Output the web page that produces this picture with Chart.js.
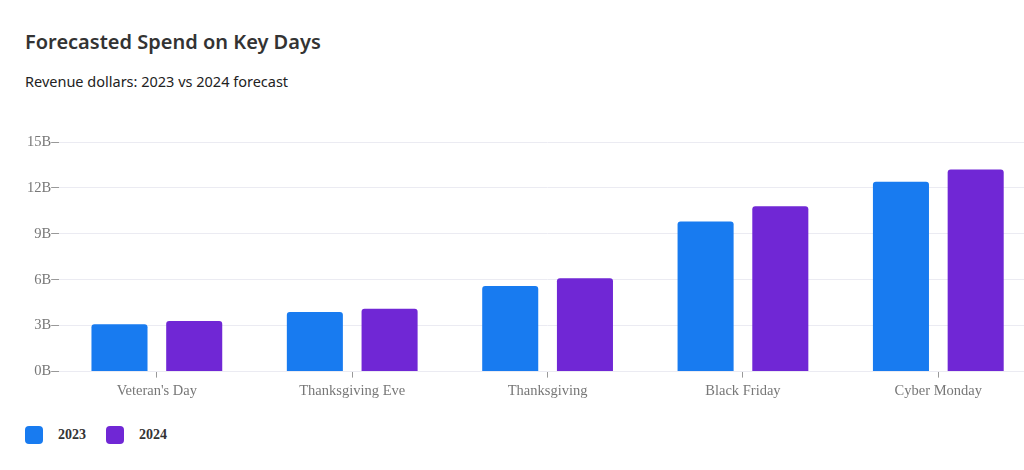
<!DOCTYPE html>
<html>
<head>
<meta charset="utf-8">
<script src="https://cdn.jsdelivr.net/npm/chart.js@4"></script>
<style>
  html, body { margin:0; padding:0; background:#fff; overflow:hidden; width:1024px; height:470px; }
  #wrap { position:absolute; left:0; top:0; width:1038px; height:405px; }
  .title { position:absolute; left:25px; top:28px; font-family:"Noto Sans"; font-weight:600; font-size:20px; color:#333; }
  .sub { position:absolute; left:25px; top:71px; font-family:"Noto Sans"; font-size:14.5px; color:#222; }
  #legend { position:absolute; left:25px; top:426px; display:flex; font-family:"Liberation Serif"; font-weight:bold; font-size:14px; color:#333; }
  .item { display:flex; align-items:center; margin-right:20px; }
  .box { width:18px; height:18px; border-radius:4px; margin-right:15px; }
</style>
</head>
<body>
<div class="title">Forecasted Spend on Key Days</div>
<div class="sub">Revenue dollars: 2023 vs 2024 forecast</div>
<div id="wrap"><canvas id="chart"></canvas></div>
<div id="legend"></div>
<script>
let categories = ["Veteran's Day", "Thanksgiving Eve", "Thanksgiving", "Black Friday", "Cyber Monday"];
let seriesNames = ["2023", "2024"];
let values2023 = [3.1, 3.9, 5.6, 9.8, 12.4];
let values2024 = [3.3, 4.1, 6.1, 10.8, 13.2];
let yTicks = [0, 3, 6, 9, 12, 15];
let colors = ["#187bf0", "#7027d5"];

let tickFont = { family: "Liberation Serif", size: 14.5 };

new Chart(document.getElementById("chart"), {
    type: "bar",
    data: {
        labels: categories,
        datasets: [
            { label: seriesNames[0], data: values2023, backgroundColor: colors[0] },
            { label: seriesNames[1], data: values2024, backgroundColor: colors[1] }
        ]
    },
    options: {
        responsive: true,
        maintainAspectRatio: false,
        animation: false,
        layout: { padding: { left: 27, top: 142, right: 2, bottom: 0 } },
        datasets: { bar: { categoryPercentage: 0.765, barPercentage: 0.75, borderRadius: 3 } },
        plugins: { legend: { display: false }, tooltip: { enabled: false } },
        scales: {
            x: {
                grid: { offset: false, drawOnChartArea: false, tickLength: 6, tickColor: "#999" },
                border: { display: false },
                ticks: { color: "#777", font: tickFont, padding: 5 }
            },
            y: {
                min: 0,
                max: 15,
                afterBuildTicks: function(axis){ axis.ticks = yTicks.map(v => ({ value: v })); },
                grid: { color: "#ebebf2", tickLength: 8, tickColor: "#999" },
                border: { display: false },
                ticks: { color: "#777", font: tickFont, padding: 0, callback: v => v + "B" }
            }
        }
    }
});

let legend = document.getElementById("legend");
seriesNames.forEach(function(name, i){
    legend.innerHTML += `<div class="item"><div class="box" style="background:${colors[i]}"></div>${name}</div>`;
});
</script>
</body>
</html>
